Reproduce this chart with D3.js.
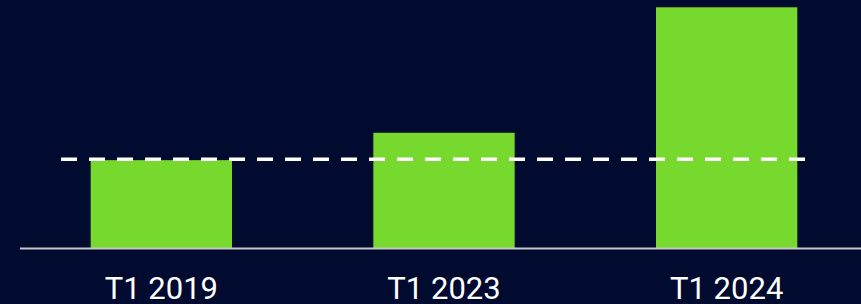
<!DOCTYPE html>
<html>
<head>
<meta charset="utf-8">
<script src="https://cdn.jsdelivr.net/npm/d3@7"></script>
<style>
  html, body { margin: 0; padding: 0; background: #000b2f; }
  svg { display: block; }
</style>
</head>
<body>
<svg id="chart" width="861" height="304"></svg>
<script>
const categories = ["T1 2019", "T1 2023", "T1 2024"];
const values = [100, 131, 273];
const referenceValue = 101;

const W = 861, H = 304;
const svg = d3.select("#chart");
svg.append("rect").attr("width", W).attr("height", H).attr("fill", "#000b2f");

const x = d3.scaleBand().domain(categories).range([20, 868]).paddingInner(0.5).paddingOuter(0.25);
const y = d3.scaleLinear().domain([0, 273]).range([248.5, 7.3]);

svg.selectAll("rect.bar").data(values).join("rect")
  .attr("class", "bar")
  .attr("x", (d, i) => x(categories[i]))
  .attr("y", d => y(d))
  .attr("width", x.bandwidth())
  .attr("height", d => y(0) - y(d))
  .attr("fill", "#77d92d");

// baseline axis
const axis = svg.append("g").attr("transform", `translate(0,${y(0)})`)
  .call(d3.axisBottom(x).tickSize(0).tickPadding(0));
axis.select(".domain").attr("d", `M20,0H861`).attr("stroke", "#c8c8c8").attr("stroke-width", 2);
axis.selectAll(".tick text")
  .attr("fill", "#ffffff")
  .attr("font-family", "Roboto, sans-serif")
  .attr("font-size", 31)
  .attr("dy", null)
  .attr("y", 50);

// reference dashed line
svg.append("line")
  .attr("x1", 61).attr("x2", 805)
  .attr("y1", y(referenceValue)).attr("y2", y(referenceValue))
  .attr("stroke", "#ffffff")
  .attr("stroke-width", 3.5)
  .attr("stroke-dasharray", "16,12");
</script>
</body>
</html>
